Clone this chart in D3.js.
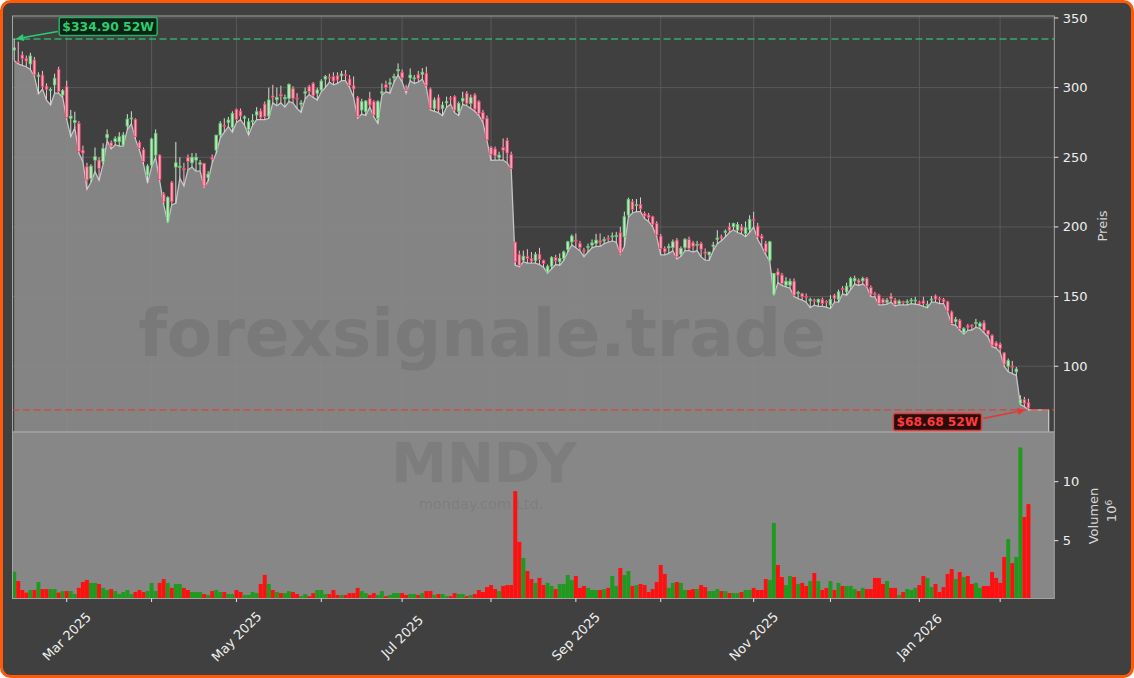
<!DOCTYPE html>
<html><head><meta charset="utf-8">
<script src="https://cdn.jsdelivr.net/npm/d3@7"></script>
<style>
html,body{margin:0;padding:0;background:#ffffff;}
svg{display:block;}
text{font-family:"DejaVu Sans",sans-serif;}
</style></head><body>
<svg id="chart" width="1134" height="678"></svg>
<script>
// ---------------- DATA ----------------
const ticker = "MNDY";
const company = "monday.com Ltd.";
const watermark = "forexsignale.trade";
const startDate = "2025-02-11";
const holidays = ["2025-02-17","2025-04-18","2025-05-26","2025-06-19","2025-07-04","2025-09-01",
  "2025-11-27","2025-12-25","2026-01-01","2026-01-19","2026-02-16"];

const opens = [327.0,318.8,323.4,321.0,317.0,319.8,308.0,309.0,301.0,298.0,
301.9,313.1,294.7,300.7,278.0,275.0,274.3,255.0,243.2,234.8,
248.0,248.0,246.8,264.0,260.4,261.2,261.2,258.8,272.4,277.6,
277.2,260.7,255.6,237.2,244.4,251.6,251.6,223.6,203.7,231.9,
243.0,243.0,242.0,250.0,246.0,248.0,245.0,245.6,235.5,250.0,
255.2,265.9,273.0,275.0,271.5,284.4,283.2,278.0,270.0,275.5,
280.3,283.2,288.2,279.6,294.0,291.3,295.0,292.0,292.3,299.5,
292.5,288.0,296.0,300.7,303.0,295.9,298.3,306.2,307.5,307.9,
308.6,308.4,309.5,306.2,301.4,292.8,283.9,282.7,292.3,289.9,
277.9,296.0,302.0,302.5,307.0,312.0,311.0,299.0,307.0,306.5,
309.5,309.6,310.3,299.0,285.1,292.8,285.1,289.0,292.5,293.5,
282.7,290.3,295.9,288.7,294.7,289.9,282.2,278.0,257.0,256.0,
250.0,257.0,262.0,252.0,189.0,180.2,176.1,179.0,177.3,175.7,
180.4,176.0,167.5,171.8,178.0,175.0,177.3,183.8,189.3,190.5,
188.1,183.3,185.4,187.0,188.1,190.0,190.0,192.0,193.0,193.0,
195.8,192.9,208.5,218.1,215.3,216.1,209.7,208.5,207.3,202.5,
193.4,184.5,185.0,185.2,190.5,180.4,185.2,191.0,188.6,187.0,
188.0,182.0,180.0,186.0,191.0,193.0,196.0,200.0,200.1,197.7,
200.1,195.3,198.2,205.5,200.6,193.4,188.1,176.1,151.7,167.8,
165.4,158.2,158.2,161.0,152.5,152.0,150.0,147.0,147.5,146.0,
148.0,146.5,144.0,151.0,147.9,156.0,153.4,157.0,161.3,161.8,
161.3,163.0,156.5,152.0,151.0,147.9,146.0,150.3,147.4,145.0,
146.3,146.0,147.0,147.0,146.0,147.0,144.0,147.7,150.5,148.5,
147.9,146.2,139.0,132.0,133.0,124.0,129.0,129.5,131.0,128.7,
131.1,125.5,122.2,116.8,115.8,109.6,100.0,100.0,96.0,73.5,
76.0,74.0];

const highs = [334.9,333.0,326.0,323.0,325.0,322.0,311.0,312.0,303.0,300.0,
310.0,315.0,299.0,305.0,284.0,282.7,276.0,258.4,246.0,245.0,
257.0,250.0,260.0,270.0,262.0,265.0,268.0,268.0,281.0,283.0,
278.0,262.0,257.0,245.0,264.0,270.0,252.0,225.0,222.0,233.0,
261.0,250.0,246.0,252.0,253.0,253.0,248.0,246.0,240.0,252.0,
266.0,276.0,278.0,279.0,283.0,285.0,285.0,280.0,278.0,281.0,
286.0,285.0,290.0,300.0,302.0,300.0,301.4,295.0,303.0,301.0,
296.0,291.0,300.0,302.0,304.0,300.0,306.0,309.0,310.0,311.0,
311.0,312.0,312.6,309.0,308.0,294.0,292.0,291.0,297.0,291.0,
291.0,303.0,305.0,306.7,310.0,317.4,313.0,302.0,313.8,309.0,
312.0,314.0,315.0,300.0,293.0,295.0,290.0,293.5,294.0,294.5,
290.0,297.0,297.5,295.0,296.0,291.0,284.0,280.0,258.0,257.7,
254.0,263.5,264.0,254.0,189.3,183.0,183.0,184.0,182.0,182.0,
185.0,176.5,173.0,179.0,180.0,181.0,183.0,190.0,194.6,195.3,
190.0,185.0,188.0,191.0,195.0,195.3,192.9,194.0,196.0,196.5,
200.0,211.0,221.0,220.0,220.0,221.2,211.0,210.0,208.0,204.0,
195.0,186.0,188.0,191.0,192.0,186.0,192.0,193.0,190.0,190.0,
189.3,184.5,182.1,189.3,197.7,194.5,198.2,203.0,203.0,203.5,
202.0,204.0,208.3,210.9,203.0,195.0,190.0,190.0,167.0,170.2,
167.0,164.0,163.0,163.0,154.1,152.7,152.2,149.3,148.6,148.6,
149.3,147.4,151.0,152.0,155.0,157.5,160.0,164.2,165.0,163.0,
164.2,164.0,158.0,153.4,152.0,149.0,149.0,152.5,149.0,148.0,
147.0,148.0,149.0,149.8,147.0,149.8,147.0,150.3,151.5,149.8,
149.0,147.0,140.0,135.4,134.0,128.0,130.4,130.2,134.0,132.0,
133.0,126.0,123.0,118.0,117.0,110.0,105.5,103.8,99.5,79.2,
78.0,76.7];

const lows = [319.5,317.0,316.0,315.0,313.0,308.0,295.5,299.0,291.0,287.5,
296.0,296.0,293.0,277.0,264.8,271.0,253.0,247.0,227.0,232.0,
239.6,233.5,245.0,262.0,256.0,259.0,258.0,258.0,270.0,274.0,
263.0,255.0,245.0,231.5,243.0,250.0,233.0,216.0,202.9,216.0,
217.0,235.0,229.5,241.0,243.0,240.0,240.0,228.5,233.0,246.0,
253.0,264.0,268.0,272.0,268.0,275.0,277.0,273.0,266.0,273.0,
277.0,277.0,277.0,278.0,289.0,287.0,289.0,286.0,290.0,289.0,
285.0,282.3,292.0,295.0,293.0,291.0,297.0,300.0,304.0,302.0,
303.0,305.0,305.0,300.0,293.0,278.0,281.0,280.0,286.0,279.0,
274.3,294.7,297.0,296.0,304.0,309.0,304.0,296.0,305.0,303.0,
304.0,306.0,300.0,284.0,283.0,282.0,279.8,286.0,288.0,282.0,
280.0,288.0,287.0,285.0,283.0,280.0,275.0,262.0,247.8,248.0,
248.0,248.0,246.0,241.5,172.5,171.5,175.0,174.0,174.0,174.0,
173.0,171.0,166.8,170.0,173.0,172.5,176.0,182.0,187.0,185.0,
183.0,178.7,182.0,185.0,186.0,186.0,188.0,189.0,190.0,189.0,
180.5,186.0,207.0,210.0,211.0,211.0,206.0,204.0,200.0,193.0,
180.0,180.0,181.0,183.0,177.0,179.0,183.0,183.0,182.0,183.0,
178.5,176.1,176.0,183.0,188.0,190.0,193.0,196.0,198.0,196.0,
195.0,193.0,196.0,200.0,191.0,186.0,180.0,175.0,151.0,160.0,
158.0,157.0,156.0,150.0,148.6,147.4,146.0,142.1,143.8,143.0,
143.0,142.5,141.4,146.0,146.0,152.0,151.0,155.0,159.0,158.0,
159.0,157.0,150.0,149.8,144.0,144.0,144.5,146.0,143.3,144.0,
144.0,144.0,145.0,144.5,144.0,143.0,142.0,146.0,146.0,145.0,
145.0,139.0,130.0,129.4,126.0,123.0,125.8,126.0,128.0,127.0,
124.0,121.0,114.0,113.0,110.0,100.0,96.0,94.7,93.5,72.5,
71.0,68.68];

const closes = [328.5,318.2,321.0,319.1,322.7,309.0,309.0,300.7,298.8,298.6,
306.7,297.1,297.8,278.6,279.5,276.5,254.0,253.0,233.6,243.6,
250.4,242.0,256.4,266.4,258.0,263.3,264.7,266.0,277.4,278.2,
264.7,256.4,246.8,243.7,263.1,267.1,234.1,218.0,221.2,218.0,
246.0,243.5,241.0,247.0,250.0,250.0,246.0,229.3,237.9,248.7,
265.9,274.3,272.0,276.7,281.5,277.2,279.6,279.0,275.5,276.5,
282.7,278.6,279.1,291.1,293.0,293.0,294.0,293.0,302.3,292.3,
292.0,289.0,297.0,297.1,294.2,298.3,304.7,307.9,307.0,304.7,
305.5,309.8,309.0,301.4,299.0,279.1,289.9,290.4,287.5,280.3,
289.9,297.0,300.0,303.5,308.0,313.0,307.0,298.0,309.0,307.0,
306.6,311.0,301.4,285.1,291.1,283.9,287.5,290.0,292.3,283.9,
288.7,292.3,288.7,292.8,284.6,281.5,277.4,262.4,252.0,251.0,
251.5,255.0,253.0,242.0,175.0,172.5,179.0,177.3,175.4,180.2,
176.6,173.7,171.8,178.1,175.7,177.3,182.1,189.3,193.4,190.0,
185.2,182.5,186.0,188.5,190.5,189.0,191.0,191.5,193.5,194.0,
181.0,207.3,219.7,212.5,216.0,213.0,207.8,206.8,202.0,194.1,
184.5,182.1,186.0,189.3,178.5,184.5,191.0,184.5,186.2,187.5,
184.0,181.0,182.0,187.0,192.0,192.0,197.0,197.7,202.5,201.8,
197.2,199.4,205.4,205.0,193.0,191.7,182.1,189.3,166.6,165.4,
159.4,161.0,161.0,151.0,153.0,150.0,149.3,148.0,147.0,148.0,
145.0,146.0,148.0,148.6,153.4,155.0,157.5,163.0,163.0,159.9,
163.0,157.5,151.7,151.5,145.0,145.5,147.4,148.4,144.5,146.7,
146.0,146.5,147.5,147.5,145.5,145.0,144.5,148.2,148.2,148.0,
146.2,139.5,130.6,133.5,127.0,127.0,128.0,129.0,131.5,130.6,
125.8,123.0,115.1,114.4,112.7,101.4,104.0,99.5,98.0,76.0,
73.5,70.0];

// volume in millions of shares
const volumes = [2.37,1.58,0.82,0.6,0.82,0.82,1.5,0.9,0.9,0.9,
0.9,0.6,0.73,0.73,0.73,0.48,1.0,1.5,1.67,1.42,
1.42,1.33,1.0,0.82,0.9,0.73,0.48,0.65,0.82,0.48,
0.65,0.82,0.65,0.73,1.42,0.73,1.42,1.75,1.42,1.0,
1.33,1.33,1.0,0.82,0.65,0.65,0.65,0.48,0.4,0.73,
0.82,0.65,0.65,0.48,0.48,0.82,0.65,0.4,0.4,0.65,
0.56,1.33,2.1,1.33,0.82,0.65,0.56,0.56,0.73,0.65,
0.48,0.3,0.48,0.3,0.56,0.82,0.82,0.48,0.48,0.82,
0.4,0.4,0.4,0.56,0.56,1.0,0.73,0.56,0.4,0.56,
0.4,0.73,0.3,0.4,0.56,0.56,0.56,0.4,0.48,0.48,
0.4,0.56,0.73,0.73,0.4,0.48,0.48,0.3,0.3,0.56,
0.48,0.48,0.3,0.4,0.48,0.82,0.65,1.07,1.24,0.9,
0.73,1.16,1.24,1.24,9.2,4.9,3.53,2.43,1.75,1.42,
1.84,1.24,1.42,1.16,0.9,1.33,1.33,2.09,1.67,2.0,
1.0,1.16,1.0,0.82,0.82,0.82,0.9,1.0,2.0,1.16,
2.68,2.09,2.43,1.16,1.24,1.33,1.24,0.65,0.9,1.5,
2.94,2.18,1.0,1.42,1.5,1.42,0.82,0.82,0.9,0.9,
1.24,1.07,0.73,0.73,0.9,0.73,0.73,0.56,0.56,0.56,
0.65,0.82,0.82,1.0,0.82,0.82,1.75,1.67,6.5,2.94,
1.92,1.24,2.0,1.92,1.33,1.42,1.16,1.58,2.26,1.58,
0.82,1.0,1.58,0.82,1.42,1.16,1.16,1.16,0.9,0.73,
1.0,0.9,0.9,1.84,1.84,1.33,1.58,1.0,1.0,0.4,
0.65,0.9,0.82,1.0,1.24,2.0,1.84,1.07,1.33,0.65,
1.07,2.18,2.6,1.75,2.34,1.92,2.0,1.33,1.42,1.0,
1.16,1.16,2.34,1.84,1.42,3.62,5.14,3.1,3.62,12.9,
7.0,8.1];

const priceTicks = [100,150,200,250,300,350];
const volumeTicks = [5,10];
const high52 = 334.90;
const low52 = 68.68;
const areaEndIndex = 256;

// ---------------- TRADING DATES ----------------
const parse = d3.utcParse("%Y-%m-%d");
const fmtDay = d3.utcFormat("%Y-%m-%d");
const hol = new Set(holidays);
const dates = [];
{
  let d = parse(startDate);
  while (dates.length < closes.length) {
    const wd = d.getUTCDay();
    if (wd !== 0 && wd !== 6 && !hol.has(fmtDay(d))) dates.push(d);
    d = d3.utcDay.offset(d, 1);
  }
}
const monthTicks = [];
dates.forEach((dt, i) => { if (i > 0 && dt.getUTCMonth() !== dates[i-1].getUTCMonth()) monthTicks.push(i); });
const fmtMonth = d3.utcFormat("%b %Y");

const data = closes.map((c, i) => ({i, o: opens[i], h: highs[i], l: lows[i], c, v: volumes[i]}));

// ---------------- LAYOUT ----------------
const W = 1134, H = 678;
const L = 12.5, R = 1054.3, PT = 16, PB = 432, VT = 432, VB = 598.5;
const svg = d3.select("#chart");

const x = d3.scaleLinear().domain([-0.42, 257.4]).range([L, R]);
const yP = d3.scaleLinear().domain([52.8, 351.4]).range([PB, PT]);
const yV = d3.scaleLinear().domain([0.1, 14.21]).range([VB, VT]);
const step = x(1) - x(0);

// background with orange frame
svg.append("rect").attr("x", 1.5).attr("y", 1.5).attr("width", W - 3).attr("height", H - 3)
  .attr("rx", 9).attr("fill", "#404040").attr("stroke", "#ff5a0a").attr("stroke-width", 3);

const defs = svg.append("defs");
defs.append("clipPath").attr("id", "clipP").append("rect")
  .attr("x", L).attr("y", PT).attr("width", R - L).attr("height", PB - PT);
defs.append("clipPath").attr("id", "clipV").append("rect")
  .attr("x", L).attr("y", VT).attr("width", R - L).attr("height", VB - VT);

// ---------- price panel ----------
const gP = svg.append("g").attr("clip-path", "url(#clipP)");
gP.append("rect").attr("x", L).attr("y", PT).attr("width", R - L).attr("height", PB - PT).attr("fill", "#404040");

// grid
gP.selectAll("line.hg").data(priceTicks).join("line").attr("class", "hg")
  .attr("x1", L).attr("x2", R).attr("y1", d => yP(d)).attr("y2", d => yP(d))
  .attr("stroke", "#606060").attr("stroke-width", 0.8);
gP.selectAll("line.vg").data(monthTicks).join("line").attr("class", "vg")
  .attr("x1", d => x(d)).attr("x2", d => x(d)).attr("y1", PT).attr("y2", PB)
  .attr("stroke", "#606060").attr("stroke-width", 0.8);

// area under lows
const areaPts = data.map(d => ({i: d.i, v: d.l}));
areaPts.push({i: areaEndIndex, v: lows[lows.length - 1]});
const area = d3.area().x(d => x(d.i)).y0(PB).y1(d => yP(d.v));
gP.append("path").datum(areaPts).attr("d", area).attr("fill", "#8a8a8a").attr("fill-opacity", 0.93);
const line = d3.line().x(d => x(d.i)).y(d => yP(d.v));
const edgePts = areaPts.concat([{i: areaEndIndex, v: yP.domain()[0]}]);
gP.append("path").datum(edgePts).attr("d", line).attr("fill", "none")
  .attr("stroke", "#c4c4c4").attr("stroke-width", 1.3);

// watermark
gP.append("text").attr("x", 482).attr("y", 356).attr("text-anchor", "middle")
  .attr("font-size", 66).attr("font-weight", "bold").attr("fill", "#262626").attr("fill-opacity", 0.12)
  .text(watermark);

// 52W lines
gP.append("line").attr("x1", L).attr("x2", R).attr("y1", yP(high52)).attr("y2", yP(high52))
  .attr("stroke", "#2ecc71").attr("stroke-opacity", 0.8).attr("stroke-width", 1.3).attr("stroke-dasharray", "7,3.5");
gP.append("line").attr("x1", L).attr("x2", R).attr("y1", yP(low52)).attr("y2", yP(low52))
  .attr("stroke", "#e53935").attr("stroke-opacity", 0.85).attr("stroke-width", 1.3).attr("stroke-dasharray", "7,3.5");

// candles
const bw = 2.6;
const cg = gP.append("g");
cg.selectAll("line.wick").data(data).join("line").attr("class", "wick")
  .attr("x1", d => x(d.i)).attr("x2", d => x(d.i)).attr("y1", d => yP(d.h)).attr("y2", d => yP(d.l))
  .attr("stroke", d => d.c >= d.o ? "#cfe3d0" : "#eec3cd").attr("stroke-width", 1);
cg.selectAll("rect.body").data(data).join("rect").attr("class", "body")
  .attr("x", d => x(d.i) - bw / 2).attr("width", bw)
  .attr("y", d => yP(Math.max(d.o, d.c)))
  .attr("height", d => Math.max(1, Math.abs(yP(d.o) - yP(d.c))))
  .attr("fill", d => d.c >= d.o ? "#bfe6c3" : "#f2a7b8")
  .attr("stroke", d => d.c >= d.o ? "#5ccb6c" : "#f03f69").attr("stroke-width", 0.8);

// ---------- volume panel ----------
const gV = svg.append("g").attr("clip-path", "url(#clipV)");
gV.append("rect").attr("x", L).attr("y", VT).attr("width", R - L).attr("height", VB - VT).attr("fill", "#878787");
gV.append("text").attr("x", 484).attr("y", 482).attr("text-anchor", "middle")
  .attr("font-size", 56).attr("font-weight", "bold").attr("fill", "#262626").attr("fill-opacity", 0.1).text(ticker);
gV.append("text").attr("x", 481).attr("y", 509).attr("text-anchor", "middle")
  .attr("font-size", 14.5).attr("fill", "#262626").attr("fill-opacity", 0.1).text(company);
const vbw = step * 0.98;
gV.selectAll("rect.vol").data(data).join("rect").attr("class", "vol")
  .attr("x", d => x(d.i) - vbw / 2).attr("width", vbw)
  .attr("y", d => yV(d.v)).attr("height", d => VB - yV(d.v))
  .attr("fill", d => d.c >= d.o ? "#1f9a1f" : "#ff1010");

// ---------- spines ----------
const sp = svg.append("g").attr("fill", "none").attr("stroke", "#a4a4a4").attr("stroke-width", 1);
sp.append("rect").attr("x", L).attr("y", PT).attr("width", R - L).attr("height", PB - PT);
sp.append("rect").attr("x", L).attr("y", VT).attr("width", R - L).attr("height", VB - VT);

// ---------- axes ----------
const ax = svg.append("g").attr("font-size", 13).attr("fill", "#efefef");
// price axis (right)
priceTicks.forEach(t => {
  ax.append("line").attr("x1", R).attr("x2", R + 4).attr("y1", yP(t)).attr("y2", yP(t)).attr("stroke", "#e8e8e8");
  ax.append("text").attr("x", R + 8.5).attr("y", yP(t)).attr("dy", "0.35em").text(t);
});
ax.append("text").attr("transform", `translate(${1107},${(PT + PB) / 2 + 2}) rotate(-90)`)
  .attr("text-anchor", "middle").attr("fill", "#d6d6d6").text("Preis");
// volume axis (right)
volumeTicks.forEach(t => {
  ax.append("line").attr("x1", R).attr("x2", R + 4).attr("y1", yV(t)).attr("y2", yV(t)).attr("stroke", "#e8e8e8");
  ax.append("text").attr("x", R + 8.5).attr("y", yV(t)).attr("dy", "0.35em").text(t);
});
ax.append("text").attr("transform", `translate(${1098},${516}) rotate(-90)`)
  .attr("text-anchor", "middle").attr("fill", "#d6d6d6").text("Volumen");
const exp = ax.append("text").attr("transform", `translate(${1116},${511}) rotate(-90)`)
  .attr("text-anchor", "middle").attr("fill", "#d6d6d6");
exp.append("tspan").text("10");
exp.append("tspan").attr("dy", "-0.45em").attr("font-size", 9).text("6");
// x axis (bottom)
monthTicks.forEach((t, k) => {
  ax.append("line").attr("x1", x(t)).attr("x2", x(t)).attr("y1", VB).attr("y2", VB + 3.5).attr("stroke", "#e8e8e8");
  if (k % 2 === 0) {
    ax.append("text").attr("transform", `translate(${x(t)},${636.5}) rotate(-45)`)
      .attr("text-anchor", "middle").attr("dy", "0.35em").text(fmtMonth(dates[t]));
  }
});

// ---------- annotations ----------
function arrow(g, x1, y1, x2, y2, color) {
  const ang = Math.atan2(y2 - y1, x2 - x1);
  const hl = 8, hw = 3.6;
  const bx = x2 - hl * Math.cos(ang), by = y2 - hl * Math.sin(ang);
  g.append("line").attr("x1", x1).attr("y1", y1).attr("x2", bx).attr("y2", by)
    .attr("stroke", color).attr("stroke-width", 1.6);
  const px = -Math.sin(ang) * hw, py = Math.cos(ang) * hw;
  g.append("path").attr("d", `M${x2},${y2}L${bx + px},${by + py}L${bx - px},${by - py}Z`).attr("fill", color);
}
const an = svg.append("g");
// 52W high
{
  const iH = highs.indexOf(d3.max(highs));
  const tx = x(iH) + 1.5, ty = yP(high52);
  const bx = tx + 43.5, by = ty - 21.5, bwid = 98, bh = 18;
  arrow(an, bx - 1.5, by + bh - 4, tx, ty, "#2ecc71");
  an.append("rect").attr("x", bx).attr("y", by).attr("width", bwid).attr("height", bh).attr("rx", 2)
    .attr("fill", "#0c2214").attr("stroke", "#27ae60").attr("stroke-width", 1.5);
  an.append("text").attr("x", bx + bwid / 2).attr("y", by + bh / 2).attr("dy", "0.36em")
    .attr("text-anchor", "middle").attr("font-size", 12.4).attr("font-weight", "bold")
    .attr("fill", "#2ecc71").text(`$${high52.toFixed(2)} 52W`);
}
// 52W low
{
  const iL = lows.indexOf(d3.min(lows));
  const tx = x(iL) - 3, ty = yP(low52);
  const bwid = 88, bh = 17;
  const bx = tx - 44 - bwid, by = ty + 3.5;
  arrow(an, bx + bwid + 2, by + 5, tx, ty, "#e53935");
  an.append("rect").attr("x", bx).attr("y", by).attr("width", bwid).attr("height", bh).attr("rx", 2)
    .attr("fill", "#2a0c0c").attr("stroke", "#e53935").attr("stroke-width", 1.5);
  an.append("text").attr("x", bx + bwid / 2).attr("y", by + bh / 2).attr("dy", "0.36em")
    .attr("text-anchor", "middle").attr("font-size", 12.2).attr("font-weight", "bold")
    .attr("fill", "#ff3b3b").text(`$${low52.toFixed(2)} 52W`);
}
</script>
</body></html>
